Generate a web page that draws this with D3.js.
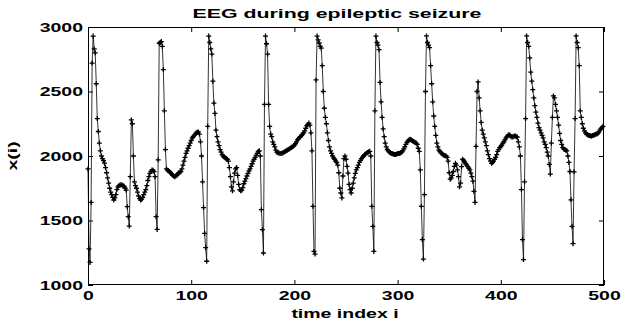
<!DOCTYPE html>
<html>
<head>
<meta charset="utf-8">
<script src="https://cdn.jsdelivr.net/npm/d3@7"></script>
<style>
  body { margin: 0; background: #fff; }
  svg { display: block; }
  text { font-family: "Liberation Sans", Arial, sans-serif; font-weight: bold; fill: #000; }
</style>
</head>
<body>
<div id="chart"></div>
<script>
const title = "EEG during epileptic seizure";
const xLabel = "time index i";
const yLabel = "x(i)";
const xTicks = [0, 100, 200, 300, 400, 500];
const yTicks = [1000, 1500, 2000, 2500, 3000];

// EEG samples x(i), i = 0..499
const eeg = [
  1900, 1280, 1175, 1640, 2720, 2930, 2830, 2800, 2560, 2290,
  2190, 2100, 2040, 2000, 1980, 1965, 1944, 1910, 1870, 1830,
  1790, 1750, 1720, 1700, 1680, 1659, 1675, 1700, 1740, 1760,
  1770, 1775, 1778, 1775, 1770, 1765, 1750, 1736, 1607, 1530,
  1457, 1840, 2280, 2250, 2000, 1800, 1770, 1750, 1720, 1690,
  1670, 1659, 1665, 1680, 1700, 1720, 1740, 1770, 1810, 1840,
  1866, 1880, 1892, 1890, 1879, 1840, 1530, 1431, 1970, 2874,
  2880, 2887, 2850, 2670, 2350, 2050, 1900, 1890, 1885, 1880,
  1870, 1860, 1850, 1845, 1840, 1845, 1850, 1860, 1870, 1875,
  1880, 1900, 1930, 1960, 1990, 2020, 2040, 2060, 2080, 2100,
  2120, 2140, 2150, 2160, 2170, 2180, 2185, 2187, 2170, 2110,
  2000, 1800, 1600, 1400, 1290, 1184, 2230, 2930, 2880, 2830,
  2790, 2580, 2410, 2330, 2200, 2150, 2110, 2080, 2050, 2030,
  2010, 2000, 1990, 1985, 1980, 1975, 1960, 1910, 1840, 1760,
  1730, 1800, 1868, 1900, 1910, 1850, 1780, 1740, 1730, 1735,
  1755, 1785, 1805, 1825, 1845, 1865, 1885, 1900, 1920, 1940,
  1960, 1975, 1990, 2005, 2020, 2035, 2040, 2000, 1584, 1429,
  1248, 2400, 2930, 2870, 2790, 2400, 2230, 2170, 2150, 2110,
  2090, 2070, 2045, 2030, 2025, 2023, 2020, 2020, 2022, 2025,
  2030, 2035, 2040, 2045, 2050, 2055, 2060, 2065, 2070, 2075,
  2085, 2095, 2110, 2125, 2135, 2145, 2150, 2160, 2170, 2180,
  2195, 2215, 2235, 2245, 2255, 2240, 2180, 2040, 1610, 1260,
  1240, 2590, 2930, 2900, 2876, 2850, 2837, 2700, 2500, 2370,
  2300, 2250, 2180, 2120, 2070, 2040, 2020, 2000, 1985, 1975,
  1960, 1950, 1930, 1870, 1750, 1713, 1675, 1845, 1980, 2000,
  1975, 1920, 1868, 1780, 1740, 1713, 1750, 1790, 1830, 1865,
  1892, 1910, 1930, 1950, 1965, 1980, 1990, 2000, 2010, 2015,
  2023, 2028, 2033, 2036, 2000, 1610, 1455, 1260, 2350, 2930,
  2880, 2860, 2824, 2570, 2420, 2300, 2210, 2150, 2100, 2070,
  2050, 2040, 2030, 2025, 2020, 2018, 2015, 2012, 2012, 2015,
  2018, 2022, 2020, 2025, 2030, 2040, 2055, 2070, 2090, 2105,
  2115, 2125, 2130, 2128, 2120, 2112, 2110, 2105, 2100, 2090,
  2060, 2036, 1892, 1610, 1352, 1201, 1700, 2500, 2931, 2880,
  2860, 2840, 2700, 2560, 2420, 2310, 2230, 2160, 2100, 2070,
  2045, 2036, 2025, 2018, 2010, 2005, 2002, 2000, 1990, 1960,
  1870, 1820, 1830, 1850, 1880, 1920, 1943, 1930, 1892, 1840,
  1761, 1790, 1917, 1975, 1965, 1955, 1940, 1930, 1917, 1905,
  1892, 1868, 1840, 1805, 1726, 1640, 2075, 2500, 2574, 2450,
  2350, 2260, 2200, 2170, 2140, 2110, 2080, 2040, 2010, 1980,
  1960, 1943, 1950, 1960, 1975, 1990, 2010, 2036, 2050, 2065,
  2075, 2085, 2100, 2110, 2125, 2140, 2150, 2160, 2165, 2160,
  2150, 2147, 2150, 2155, 2155, 2150, 2147, 2110, 2070, 2000,
  1740, 1352, 1197, 1800, 2290, 2931, 2880, 2850, 2760, 2650,
  2580, 2514, 2450, 2390, 2340, 2300, 2255, 2220, 2200, 2180,
  2160, 2140, 2110, 2090, 2065, 2030, 2000, 1935, 1860, 2100,
  2300, 2466, 2450, 2400, 2350, 2300, 2240, 2175, 2120, 2090,
  2065, 2055, 2050, 2045, 2040, 2000, 1950, 1880, 1660, 1455,
  1320, 1877, 2290, 2931, 2880, 2840, 2700, 2350, 2300, 2250,
  2215, 2195, 2180, 2170, 2165, 2160, 2158, 2155, 2155, 2158,
  2160, 2165, 2168, 2170, 2175, 2185, 2200, 2210, 2220, 2230
];

const width = 625;
const height = 322;
const margin = { top: 27, right: 21, bottom: 37, left: 88 };
const stretch = 1.5; // the old screen font is drawn wide
const titleStretch = 1.58;
const fontSize = 13;
const titleSize = 13.5;
const tickLen = 5;
const plus = 2.5;

const x = d3.scaleLinear().domain([0, 500]).range([margin.left, width - margin.right]);
const y = d3.scaleLinear().domain([1000, 3000]).range([height - margin.bottom, margin.top]);

const svg = d3.select("#chart").append("svg")
  .attr("width", width)
  .attr("height", height);

// widen text horizontally without moving its anchor point
function widen(sel, k = stretch) {
  sel.each(function () {
    const t = d3.select(this);
    const bx = +t.attr("x") || 0;
    t.attr("x", bx / k).attr("transform", `scale(${k},1)`);
  });
}

// line + markers
const line = d3.line().x((d, i) => x(i)).y(d => y(d));
svg.append("path")
  .attr("d", line(eeg))
  .attr("fill", "none")
  .attr("stroke", "#000")
  .attr("stroke-width", 0.8);

svg.append("g")
  .selectAll("path")
  .data(eeg)
  .join("path")
  .attr("d", (d, i) => `M${x(i) - plus},${y(d)}h${2 * plus}M${x(i)},${y(d) - plus}v${2 * plus}`)
  .attr("stroke", "#000")
  .attr("stroke-width", 1.3)
  .attr("fill", "none");

// axes, ticks pointing in
const fmt = d3.format("d");
const axisStyle = g => {
  g.select(".domain").remove();
  g.selectAll(".tick line").attr("stroke", "#000");
  g.selectAll(".tick text").attr("font-size", fontSize).attr("font-family", null);
};

svg.append("g")
  .attr("transform", `translate(0,${height - margin.bottom})`)
  .call(d3.axisBottom(x).tickValues(xTicks).tickFormat(fmt).tickSize(-tickLen).tickSizeOuter(0).tickPadding(6))
  .call(axisStyle)
  .call(g => widen(g.selectAll(".tick text")));

svg.append("g")
  .attr("transform", `translate(0,${margin.top})`)
  .call(d3.axisTop(x).tickValues(xTicks).tickSize(-tickLen).tickSizeOuter(0).tickFormat(""))
  .call(axisStyle);

svg.append("g")
  .attr("transform", `translate(${margin.left},0)`)
  .call(d3.axisLeft(y).tickValues(yTicks).tickFormat(fmt).tickSize(-tickLen).tickSizeOuter(0).tickPadding(5))
  .call(axisStyle)
  .call(g => widen(g.selectAll(".tick text")));

svg.append("g")
  .attr("transform", `translate(${width - margin.right},0)`)
  .call(d3.axisRight(y).tickValues(yTicks).tickSize(-tickLen).tickSizeOuter(0).tickFormat(""))
  .call(axisStyle);

svg.append("rect")
  .attr("x", margin.left + 0.5)
  .attr("y", margin.top + 0.5)
  .attr("width", width - margin.left - margin.right - 1)
  .attr("height", height - margin.top - margin.bottom - 1)
  .attr("fill", "none")
  .attr("stroke", "#000");

// labels
svg.append("text")
  .attr("x", 337)
  .attr("y", 18)
  .attr("text-anchor", "middle")
  .attr("font-size", titleSize)
  .text(title)
  .call(widen, titleStretch);

svg.append("text")
  .attr("x", 345)
  .attr("y", 318)
  .attr("text-anchor", "middle")
  .attr("font-size", fontSize)
  .text(xLabel)
  .call(widen);

svg.append("text")
  .attr("transform", `translate(17,${y(2000)}) rotate(-90) scale(${stretch},1)`)
  .attr("text-anchor", "middle")
  .attr("font-size", fontSize)
  .text(yLabel);
</script>
</body>
</html>
